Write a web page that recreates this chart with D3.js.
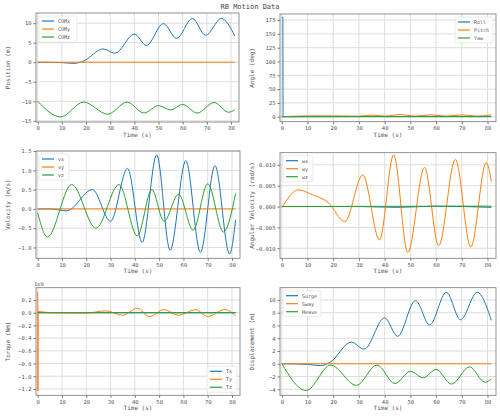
<!DOCTYPE html>
<html><head><meta charset="utf-8">
<script src="https://cdn.jsdelivr.net/npm/d3@7"></script>
<style>body{margin:0;background:#fff}text{font-family:"DejaVu Sans Mono",monospace}</style>
</head><body><div id="chart"></div>
<script>
// series as [time, value] points
const comX = [[0,0],[10,-0.1],[15,-0.3],[19,0.3],[27,3.4],[32,2.3],[40,7.2],[45,4.3],[52,9.9],[57.5,6.1],[64,11.2],[69.5,6.9],[76,11.2],[81.5,6.8]];
const comY = [[0,0],[81.5,0]];
const comZ = [[0,-10],[9.5,-14],[19,-10.2],[29,-13.3],[37,-10.2],[44,-13],[50,-11.1],[55,-12.2],[60,-10.8],[66,-13],[73,-10.3],[79,-12.8],[81.5,-12.2]];
const roll = [[0,180],[0.4,180],[0.5,0],[81.5,0]];
const pitch = [[0,0],[10,1.5],[20,1.5],[30,1],[35,3],[40,1],[46,4],[52,1],[58,3.5],[64,1],[70,3.5],[76,1],[81.5,3.5]];
const yaw = [[0,0],[40,0.5],[81.5,0.5]];
const vx = [[0,0],[5,0],[12,-0.05],[22.5,0.5],[30,-0.32],[37,1.05],[43,-0.87],[49,1.4],[54.5,-1.07],[61,1.25],[67,-1.13],[73,1.12],[79,-1.17],[81.5,-0.28]];
const vy = [[0,0],[81.5,0]];
const vz = [[0,-0.1],[4,-0.73],[14,0.63],[24,-0.5],[33.5,0.63],[41,-0.7],[47,0.5],[52,-0.32],[58,0.38],[64,-0.55],[70,0.65],[76.5,-0.6],[81.5,0.4]];
const wx = [[0,0],[30,0],[45,-0.0002],[60,0.0001],[81.5,-0.0002]];
const wy = [[0,-0.0003],[6.5,0.004],[12,0.0028],[18,0.001],[24.5,-0.0036],[31.5,0.0076],[38,-0.008],[43.5,0.0124],[49,-0.011],[55.5,0.0094],[61,-0.0094],[67.5,0.0113],[73.5,-0.0097],[79.5,0.0105],[81.5,0.006]];
const wz = [[0,0],[81.5,0.0001]];
const tx = [[0,0],[81.5,0]];
const ty = [[0,0.33],[0.1,-1.23],[0.2,0.02],[5,0],[20,-0.005],[28,0.03],[35,-0.04],[41,0.07],[46,-0.06],[52,0.05],[58,-0.04],[65,0.05],[70,-0.06],[77,0.05],[81.5,-0.05]];
const tz = [[0,0],[81.5,0]];
const surge = comX;
const sway = [[0,0],[81.5,0]];
const heave = [[0,0],[9.5,-4.2],[19,-0.2],[29,-3.4],[37,-0.2],[44,-3.1],[50,-1.2],[55,-2.2],[60,-0.9],[66,-3.2],[73,-0.5],[79,-2.9],[81.5,-2.4]];

const colors = ["#1f77b4", "#ff7f0e", "#2ca02c"];
const xTicks = [0,10,20,30,40,50,60,70,80];

const svg = d3.select("#chart").append("svg").attr("width", 500).attr("height", 416);
svg.append("text").attr("x", 250).attr("y", 9).attr("text-anchor", "middle")
  .style("font-size", "7px").attr("fill", "#444").text("RB Motion Data");

const panels = [
  {box:[36,13,239,122], y:[-15.3,12.6], yt:[-15,-10,-5,0,5,10], fmt:d3.format("d"), ylab:"Position (m)",
   series:[comX,comY,comZ], names:["COMx","COMy","COMz"], leg:"ul"},
  {box:[280,14,496,121.7], y:[-9,186], yt:[0,25,50,75,100,125,150,175], fmt:d3.format("d"), ylab:"Angle (deg)",
   series:[roll,pitch,yaw], names:["Roll","Pitch","Yaw"], leg:"ur"},
  {box:[36,151,240,258.3], y:[-1.28,1.5], yt:[-1,-0.5,0,0.5,1,1.5], fmt:d3.format(".1f"), ylab:"Velocity (m/s)",
   series:[vx,vy,vz], names:["vx","vy","vz"], leg:"ul"},
  {box:[280,152.7,496,258.3], y:[-0.0124,0.0129], yt:[-0.01,-0.005,0,0.005,0.01], fmt:d3.format(".3f"), ylab:"Angular Velocity (rad/s)",
   series:[wx,wy,wz], names:["wx","wy","wz"], leg:"ul"},
  {box:[36,287.7,240,395.3], y:[-1.3,0.394], yt:[-1.2,-1,-0.8,-0.6,-0.4,-0.2,0,0.2], fmt:d3.format(".1f"), ylab:"Torque (Nm)",
   series:[tx,ty,tz], names:["Tx","Ty","Tz"], leg:"lr", exp:"1e9"},
  {box:[280,287.7,496,395.3], y:[-4.95,11.93], yt:[-4,-2,0,2,4,6,8,10], fmt:d3.format("d"), ylab:"Displacement (m)",
   series:[surge,sway,heave], names:["Surge","Sway","Heave"], leg:"ul"}
];

panels.forEach(p => {
  const [x0,y0,x1,y1] = p.box;
  const x = d3.scaleLinear().domain([-0.7,83.3]).range([x0,x1]);
  const y = d3.scaleLinear().domain(p.y).range([y1,y0]);
  const g = svg.append("g");

  // grid
  g.selectAll(".gx").data(xTicks).enter().append("line")
    .attr("x1", d => x(d)).attr("x2", d => x(d)).attr("y1", y0).attr("y2", y1)
    .attr("stroke", "#ddd").attr("stroke-width", 1);
  g.selectAll(".gy").data(p.yt).enter().append("line")
    .attr("x1", x0).attr("x2", x1).attr("y1", d => y(d)).attr("y2", d => y(d))
    .attr("stroke", "#ddd").attr("stroke-width", 1);

  const line = d3.line().x(d => x(d[0])).y(d => y(d[1])).curve(d3.curveMonotoneX);
  g.append("defs").append("clipPath").attr("id", "c" + x0 + y0).append("rect")
    .attr("x", x0).attr("y", y0).attr("width", x1 - x0).attr("height", y1 - y0);
  p.series.forEach((s, i) => {
    g.append("path").datum(s).attr("d", line).attr("fill", "none")
      .attr("stroke", colors[i]).attr("stroke-width", 1).attr("clip-path", `url(#c${x0}${y0})`);
  });

  g.append("rect").attr("x", x0).attr("y", y0).attr("width", x1 - x0).attr("height", y1 - y0)
    .attr("fill", "none").attr("stroke", "#777").attr("stroke-width", 0.8);

  const xa = g.append("g").attr("transform", `translate(0,${y1})`)
    .call(d3.axisBottom(x).tickValues(xTicks).tickSize(2.5).tickPadding(2));
  const ya = g.append("g").attr("transform", `translate(${x0},0)`)
    .call(d3.axisLeft(y).tickValues(p.yt).tickFormat(p.fmt).tickSize(2.5).tickPadding(2));
  [xa, ya].forEach(a => {
    a.select(".domain").remove();
    a.selectAll("line").attr("stroke", "#777");
    a.selectAll("text").style("font-size", "5.5px").attr("fill", "#555");
  });

  g.append("text").attr("x", (x0 + x1) / 2).attr("y", y1 + 15).attr("text-anchor", "middle")
    .style("font-size", "6px").attr("fill", "#555").text("Time (s)");
  g.append("text").attr("transform", `translate(${x0 - 26},${(y0 + y1) / 2}) rotate(-90)`)
    .attr("text-anchor", "middle").style("font-size", "6px").attr("fill", "#555").text(p.ylab);
  if (p.exp) g.append("text").attr("x", x0 - 2).attr("y", y0 - 2)
    .style("font-size", "5.5px").attr("fill", "#555").text(p.exp);

  // legend
  const lw = p.names[0].length > 3 ? 38 : 30, lh = 26;
  let lx = x0 + 3, ly = y0 + 3;
  if (p.leg === "ur") lx = x1 - lw - 3;
  if (p.leg === "lr") { lx = x1 - lw - 3; ly = y1 - lh - 3; }
  const lg = g.append("g").attr("transform", `translate(${lx},${ly})`);
  lg.append("rect").attr("width", lw).attr("height", lh).attr("rx", 1.5)
    .attr("fill", "#fff").attr("fill-opacity", 0.85).attr("stroke", "#ddd").attr("stroke-width", 0.6);
  p.names.forEach((n, i) => {
    lg.append("line").attr("x1", 3).attr("x2", 15).attr("y1", 5 + i * 8).attr("y2", 5 + i * 8)
      .attr("stroke", colors[i]).attr("stroke-width", 1.2);
    lg.append("text").attr("x", 19).attr("y", 7 + i * 8).style("font-size", "5px")
      .attr("fill", "#555").text(n);
  });
});
</script></body></html>
